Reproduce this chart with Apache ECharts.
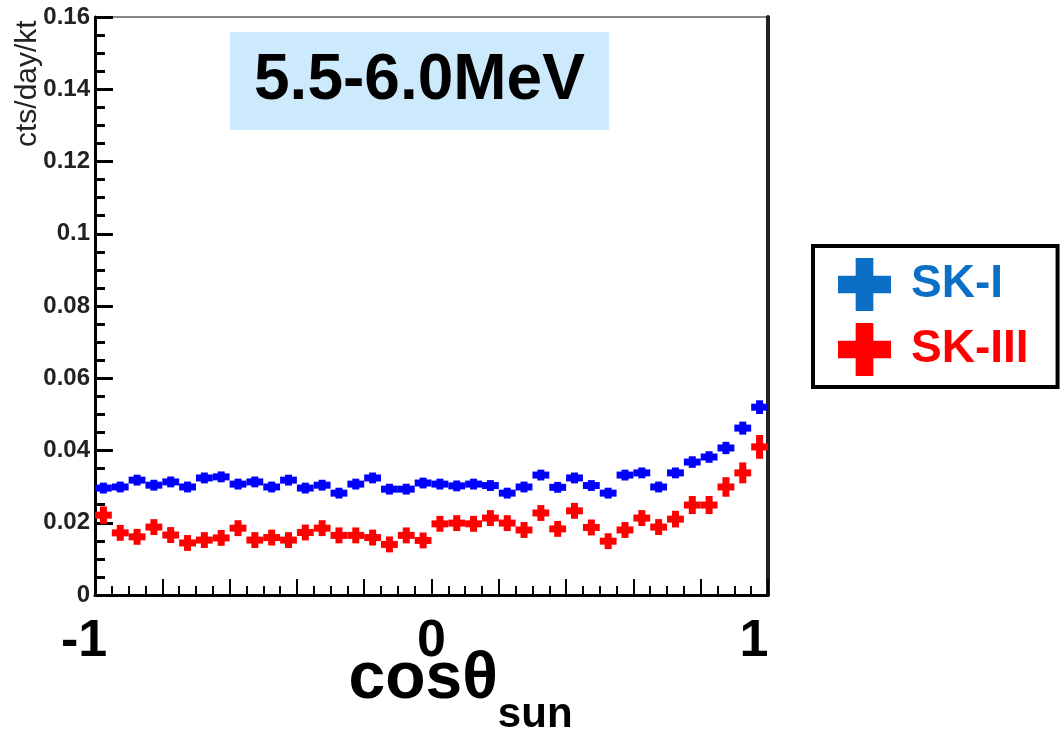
<!DOCTYPE html>
<html>
<head>
<meta charset="utf-8">
<script src="https://cdn.jsdelivr.net/npm/echarts@6/dist/echarts.min.js"></script>
<style>
html,body{margin:0;padding:0;background:#fff;}
#chart{width:1064px;height:734px;}
</style>
</head>
<body>
<div id="chart"></div>
<script>
// bin centers of cos(theta_sun), 40 bins from -1 to 1
const cosTheta = [-0.975,-0.925,-0.875,-0.825,-0.775,-0.725,-0.675,-0.625,-0.575,-0.525,
  -0.475,-0.425,-0.375,-0.325,-0.275,-0.225,-0.175,-0.125,-0.075,-0.025,
  0.025,0.075,0.125,0.175,0.225,0.275,0.325,0.375,0.425,0.475,
  0.525,0.575,0.625,0.675,0.725,0.775,0.825,0.875,0.925,0.975];
const skI = [0.0296,0.0299,0.0318,0.0304,0.0313,0.0299,0.0324,0.0327,0.0307,0.0313,
  0.0299,0.0318,0.0296,0.0304,0.0282,0.0307,0.0324,0.0293,0.0293,0.0310,
  0.0307,0.0302,0.0307,0.0303,0.0282,0.0299,0.0332,0.0298,0.0324,0.0303,
  0.0282,0.0332,0.0338,0.0299,0.0338,0.0368,0.0382,0.0407,0.0462,0.0520];
const skIErr = [0.0015,0.0015,0.0015,0.0015,0.0015,0.0015,0.0015,0.0015,0.0015,0.0015,
  0.0015,0.0015,0.0015,0.0015,0.0015,0.0015,0.0015,0.0015,0.0015,0.0015,
  0.0015,0.0015,0.0015,0.0015,0.0015,0.0015,0.0015,0.0015,0.0015,0.0015,
  0.0015,0.0015,0.0015,0.0015,0.0015,0.0016,0.0016,0.0017,0.0018,0.0019];
const skIII = [0.0221,0.0172,0.0161,0.0188,0.0166,0.0144,0.0152,0.0158,0.0185,0.0152,
  0.0159,0.0152,0.0173,0.0185,0.0165,0.0165,0.0159,0.0140,0.0165,0.0151,
  0.0197,0.0199,0.0197,0.0213,0.0199,0.0180,0.0227,0.0183,0.0233,0.0187,
  0.0149,0.0180,0.0213,0.0188,0.0210,0.0249,0.0249,0.0299,0.0338,0.0410];
const skIIIErr = [0.0024,0.0022,0.0022,0.0022,0.0022,0.0022,0.0022,0.0022,0.0022,0.0022,
  0.0022,0.0022,0.0022,0.0022,0.0022,0.0022,0.0022,0.0022,0.0022,0.0022,
  0.0022,0.0022,0.0022,0.0022,0.0022,0.0022,0.0022,0.0022,0.0022,0.0022,
  0.0022,0.0022,0.0022,0.0022,0.0023,0.0025,0.0025,0.0027,0.0029,0.0033];
const seriesNames = ['SK-I','SK-III'];
const titleText = '5.5-6.0MeV';
const yTickValues = [0,0.02,0.04,0.06,0.08,0.1,0.12,0.14,0.16];
const yTickLabels = ['0','0.02','0.04','0.06','0.08','0.1','0.12','0.14','0.16'];
const xTickValues = [-1,0,1];
const xTickLabels = ['-1','0','1'];
const yName = 'cts/day/kt';

const binWidth = 0.05;
const FONT = '"Liberation Sans", Arial, sans-serif';
const crossIcon = 'path://M6,0H12V6H18V12H12V18H6V12H0V6H6Z';

function renderItem(params, api) {
  const x = api.value(0), y = api.value(1), e = api.value(2);
  const p = api.coord([x, y]);
  const w = api.size([binWidth, 0])[0];
  const top = api.coord([x, y + e])[1];
  const bot = api.coord([x, y - e])[1];
  const color = api.visual('color');
  return {
    type: 'group',
    children: [
      {type: 'rect', shape: {x: p[0] - w / 2, y: p[1] - 3.5, width: w, height: 7}, style: {fill: color}},
      {type: 'rect', shape: {x: p[0] - 3.5, y: top, width: 7, height: bot - top}, style: {fill: color}}
    ]
  };
}

function lookup(vals, labels, v) {
  for (let i = 0; i < vals.length; i++) if (Math.abs(vals[i] - v) < 1e-9) return labels[i];
  return '';
}

const chart = echarts.init(document.getElementById('chart'), null, {renderer: 'canvas'});
chart.setOption({
  animation: false,
  backgroundColor: '#fff',
  title: {
    text: titleText,
    left: 230, top: 32,
    backgroundColor: '#cdeafc',
    padding: [17, 24, 17, 24],
    textStyle: {fontSize: 64, fontWeight: 'bold', color: '#000', fontFamily: FONT}
  },
  legend: {
    orient: 'vertical',
    left: 813, top: 246,
    padding: [12, 29, 11, 25],
    itemGap: 12,
    itemWidth: 57, itemHeight: 53,
    borderColor: '#000', borderWidth: 4,
    backgroundColor: '#fff',
    textStyle: {fontSize: 46, fontWeight: 'bold', fontFamily: FONT, padding: [0, 0, 0, 13]},
    data: [
      {name: seriesNames[0], icon: crossIcon, itemStyle: {color: '#0a6fc5'}, textStyle: {color: '#0a6fc5'}},
      {name: seriesNames[1], icon: crossIcon, itemStyle: {color: '#ff0000'}, textStyle: {color: '#ff0000'}}
    ]
  },
  graphic: [{
    type: 'text',
    x: 28, y: 147,
    rotation: Math.PI / 2,
    style: {text: yName, fontSize: 30, fill: '#222', fontFamily: FONT, align: 'left', verticalAlign: 'middle'}
  }],
  grid: {
    left: 95, right: 296, top: 17, bottom: 139,
    outerBoundsMode: 'none',
    containLabel: false,
    show: true, borderColor: '#888', borderWidth: 2, backgroundColor: 'transparent'
  },
  xAxis: [{
    type: 'value', min: -1, max: 1, interval: 0.2,
    axisLine: {show: true, onZero: false, lineStyle: {color: '#000', width: 3}},
    axisTick: {show: true, inside: true, length: 16, lineStyle: {color: '#000', width: 2}},
    minorTick: {show: true, splitNumber: 4, length: 9, lineStyle: {color: '#000', width: 2}},
    splitLine: {show: false},
    axisLabel: {
      show: true, margin: 21, showMinLabel: true, showMaxLabel: true,
      fontSize: 52, fontWeight: 'bold', color: '#000', fontFamily: FONT,
      formatter: function (v) {
        const t = lookup(xTickValues, xTickLabels, v);
        if (!t) return '';
        if (v < -0.5) return '{a|' + t + '}';
        if (v > 0.5) return '{b|' + t + '}';
        return t;
      },
      rich: {
        a: {fontSize: 52, fontWeight: 'bold', color: '#000', fontFamily: FONT, padding: [0, 22, 0, 0]},
        b: {fontSize: 52, fontWeight: 'bold', color: '#000', fontFamily: FONT, padding: [0, 28, 0, 0]}
      }
    },
    name: '{m|cos\u03b8}{s|sun}',
    nameLocation: 'middle',
    nameGap: 52,
    nameMoveOverlap: false,
    nameTextStyle: {
      padding: [0, 0, 0, 58],
      rich: {
        m: {fontSize: 66, fontWeight: 'bold', color: '#000', fontFamily: FONT, lineHeight: 89, verticalAlign: 'top'},
        s: {fontSize: 42, fontWeight: 'bold', color: '#000', fontFamily: FONT, lineHeight: 89, verticalAlign: 'bottom'}
      }
    }
  }],
  yAxis: [{
    type: 'value', min: 0, max: 0.16, interval: 0.02,
    axisLine: {show: true, onZero: false, lineStyle: {color: '#000', width: 3}},
    axisTick: {show: true, inside: true, length: 18, lineStyle: {color: '#000', width: 3}},
    minorTick: {show: true, splitNumber: 4, length: 10, lineStyle: {color: '#000', width: 3}},
    splitLine: {show: false},
    axisLabel: {
      show: true, margin: 5, fontSize: 24, fontWeight: 'bold', color: '#222', fontFamily: FONT,
      formatter: function (v) { return lookup(yTickValues, yTickLabels, v); }
    }
  }, {
    type: 'value', min: 0, max: 0.16, position: 'right',
    axisLine: {show: true, onZero: false, lineStyle: {color: '#222', width: 4}},
    axisTick: {show: false}, axisLabel: {show: false}, splitLine: {show: false}
  }],
  series: [
    {
      name: seriesNames[0], type: 'custom', renderItem: renderItem,
      itemStyle: {color: '#0000ff'},
      encode: {x: 0, y: 1},
      data: cosTheta.map((c, i) => [c, skI[i], skIErr[i]])
    },
    {
      name: seriesNames[1], type: 'custom', renderItem: renderItem,
      itemStyle: {color: '#ff0000'},
      encode: {x: 0, y: 1},
      data: cosTheta.map((c, i) => [c, skIII[i], skIIIErr[i]])
    }
  ]
});
</script>
</body>
</html>
